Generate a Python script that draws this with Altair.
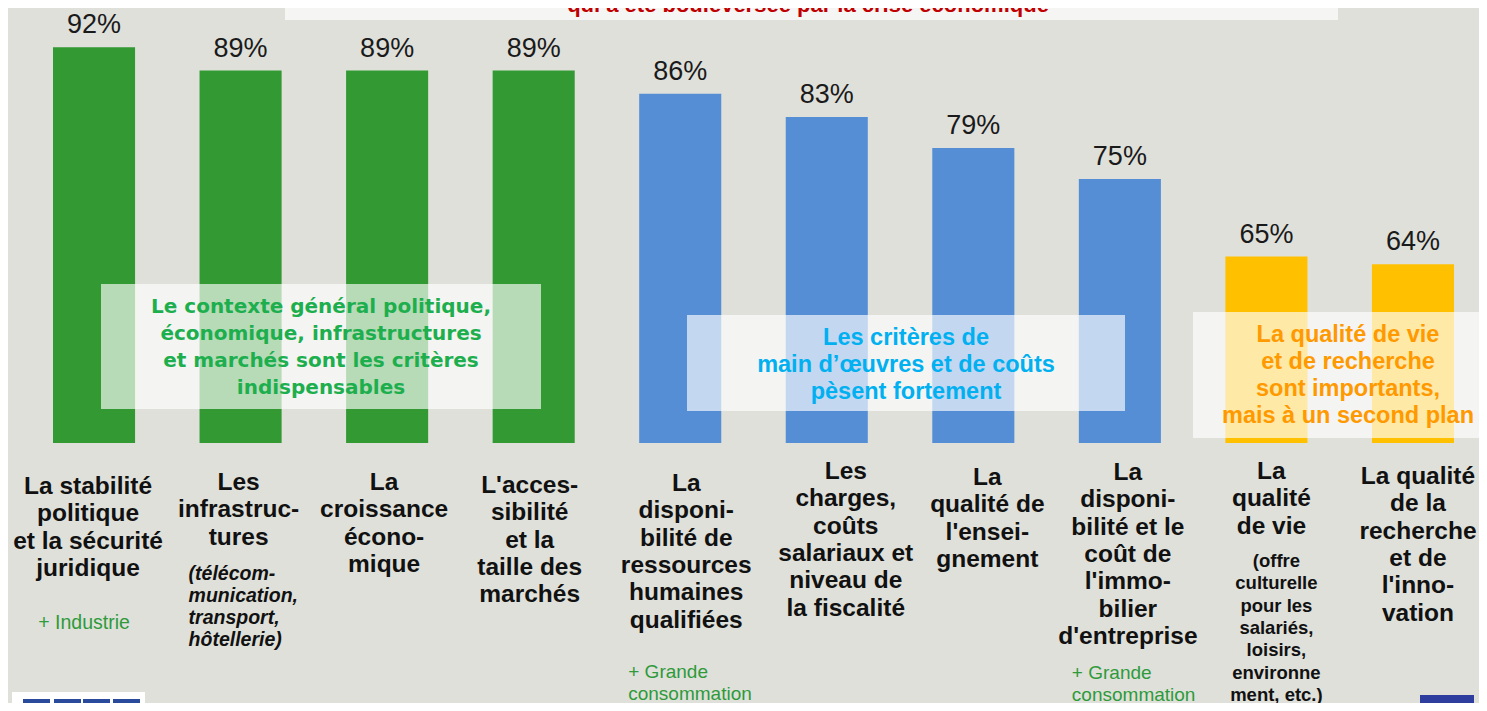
import altair as alt
import pandas as pd

# ---------------- data ----------------
labels = [
    "La stabilité\npolitique\net la sécurité\njuridique",
    "Les\ninfrastruc-\ntures",
    "La\ncroissance\nécono-\nmique",
    "L'acces-\nsibilité\net la\ntaille des\nmarchés",
    "La\ndisponi-\nbilité de\nressources\nhumaines\nqualifiées",
    "Les\ncharges,\ncoûts\nsalariaux et\nniveau de\nla fiscalité",
    "La\nqualité de\nl'ensei-\ngnement",
    "La\ndisponi-\nbilité et le\ncoût de\nl'immo-\nbilier\nd'entreprise",
    "La\nqualité\nde vie",
    "La qualité\nde la\nrecherche\net de\nl'inno-\nvation",
]
values = [92, 89, 89, 89, 86, 83, 79, 75, 65, 64]
groups = ["contexte"] * 4 + ["main d'œuvre et coûts"] * 4 + ["qualité de vie et recherche"] * 2
group_names = ["contexte", "main d'œuvre et coûts", "qualité de vie et recherche"]
group_colors = ["#339933", "#558ED5", "#FFC000"]

notes_cat = [0, 1, 4, 7, 8]
notes_text = [
    "+ Industrie",
    "(télécom-\nmunication,\ntransport,\nhôtellerie)",
    "+ Grande\nconsommation",
    "+ Grande\nconsommation",
    "(offre\nculturelle\npour les\nsalariés,\nloisirs,\nenvironne\nment, etc.)",
]

box_texts = [
    "Le contexte général politique,\néconomique, infrastructures\net marchés sont les critères\nindispensables",
    "Les critères de\nmain d’œuvres et de coûts\npèsent fortement",
    "La qualité de vie\net de recherche\nsont importants,\nmais à un second plan",
]
title_text = "qui a été bouleversée par la crise économique"

# ---------------- layout ----------------
W, H = 1471, 695
BG = "#DFE0DA"
NARROW = "Liberation Sans Narrow, Liberation Sans, sans-serif"

df = pd.DataFrame({"label": labels, "value": values, "group": groups})
df["pct"] = [f"{v}%" for v in values]

xs = alt.Scale(domain=labels, range=[45, 1446], paddingInner=0.44, paddingOuter=0)
ys = alt.Scale(domain=[40.95, 97.07], range=[435, 0], zero=False, nice=False)
X = alt.X("label:N", scale=xs, axis=None, sort=None)

base = alt.Chart(df)

bars = base.mark_bar().encode(
    x=X,
    y=alt.Y("value:Q", scale=ys, axis=None),
    y2=alt.datum(40.95),
    color=alt.Color("group:N", scale=alt.Scale(domain=group_names, range=group_colors), legend=None),
)

pct = base.mark_text(
    baseline="alphabetic", dy=-14, font=NARROW, fontSize=27, color="#1a1a1a"
).encode(x=X, y=alt.Y("value:Q", scale=ys, axis=None), text="pct:N")

layers = [bars, pct]

# category labels beneath the bars
LAB_DX = [-6, -2, -3, -4, 6, 19, 14, 8, 5, 5]
LAB_Y = [467, 463, 463, 466, 464, 452, 458, 453, 452, 457]
for i in range(len(labels)):
    layers.append(
        alt.Chart(df.iloc[[i]]).mark_text(
            align="center", baseline="top", lineBreak="\n", lineHeight=27.3,
            font=NARROW, fontSize=24.5, fontWeight="bold", color="#111111", dx=LAB_DX[i],
        ).encode(x=X, y=alt.value(LAB_Y[i]), text="label:N")
    )

# notes
note_style = [
    dict(align="center", dx=-10, y=606, color="#2E9A3A", fontStyle="normal", fontWeight="normal", size=19.5, lh=22),
    dict(align="left", dx=-52, y=557, color="#111111", fontStyle="italic", fontWeight="bold", size=19.5, lh=22),
    dict(align="left", dx=-52, y=655, color="#2E9A3A", fontStyle="normal", fontWeight="normal", size=19, lh=21.5),
    dict(align="left", dx=-48, y=656, color="#2E9A3A", fontStyle="normal", fontWeight="normal", size=19, lh=21.5),
    dict(align="center", dx=10, y=544, color="#111111", fontStyle="normal", fontWeight="bold", size=18.5, lh=22.3),
]
ndf = pd.DataFrame({"label": [labels[i] for i in notes_cat], "note": notes_text})
for j, st in enumerate(note_style):
    layers.append(
        alt.Chart(ndf.iloc[[j]]).mark_text(
            align=st["align"], baseline="top", lineBreak="\n", lineHeight=st["lh"],
            font=NARROW, fontSize=st["size"], fontWeight=st["fontWeight"], fontStyle=st["fontStyle"],
            color=st["color"], dx=st["dx"],
        ).encode(x=X, y=alt.value(st["y"]), text="note:N")
    )

# translucent annotation boxes (ty = centre of first text line)
boxes = [
    dict(x=93, x2=533, y=276, y2=401, tx=313, ty=299, color="#1DAE4E", font="DejaVu Sans", size=20),
    dict(x=679, x2=1117, y=307, y2=403, tx=898, ty=330, color="#00B0F0", font=NARROW, size=23.5),
    dict(x=1185, x2=1471, y=304, y2=430, tx=1340, ty=327, color="#FF9900", font=NARROW, size=23.5),
]
bdf = pd.DataFrame({"txt": box_texts})
for k, b in enumerate(boxes):
    rdat = bdf.iloc[[k]]
    layers.append(
        alt.Chart(rdat).mark_rect(color="white", opacity=0.65).encode(
            x=alt.value(b["x"]), x2=alt.value(b["x2"]), y=alt.value(b["y"]), y2=alt.value(b["y2"])
        )
    )
    layers.append(
        alt.Chart(rdat).mark_text(
            align="center", baseline="middle", lineBreak="\n", lineHeight=27,
            font=b["font"], fontSize=b["size"], fontWeight="bold", color=b["color"],
        ).encode(x=alt.value(b["tx"]), y=alt.value(b["ty"]), text="txt:N")
    )

# cut-off title banner at the top
tdf = pd.DataFrame({"t": [title_text]})
layers.append(
    alt.Chart(tdf).mark_rect(color="#F5F5F3").encode(
        x=alt.value(277), x2=alt.value(1330), y=alt.value(0), y2=alt.value(12)
    )
)
layers.append(
    alt.Chart(tdf).mark_text(
        align="center", baseline="alphabetic", font=NARROW, fontSize=22, fontWeight="bold", color="#C00000"
    ).encode(x=alt.value(800), y=alt.value(4), text="t:N")
)

# small logos at the bottom corners
logo = pd.DataFrame({"k": [0]})
layers.append(
    alt.Chart(logo).mark_rect(color="white").encode(
        x=alt.value(4), x2=alt.value(137), y=alt.value(684), y2=alt.value(695)
    )
)
for lx in (15, 46, 75, 105):
    layers.append(
        alt.Chart(logo).mark_rect(color="#2A4B9B").encode(
            x=alt.value(lx), x2=alt.value(lx + 27), y=alt.value(691), y2=alt.value(695)
        )
    )
layers.append(
    alt.Chart(logo).mark_rect(color="#2E3E9E").encode(
        x=alt.value(1412), x2=alt.value(1466), y=alt.value(687), y2=alt.value(695)
    )
)

chart = (
    alt.layer(*layers)
    .properties(width=W, height=H, autosize=alt.AutoSizeParams(type="none"), padding=0, background=BG)
    .configure_view(stroke=None, fill=BG)
)

chart.save("out.html", embed_options={"renderer": "svg", "actions": False})
